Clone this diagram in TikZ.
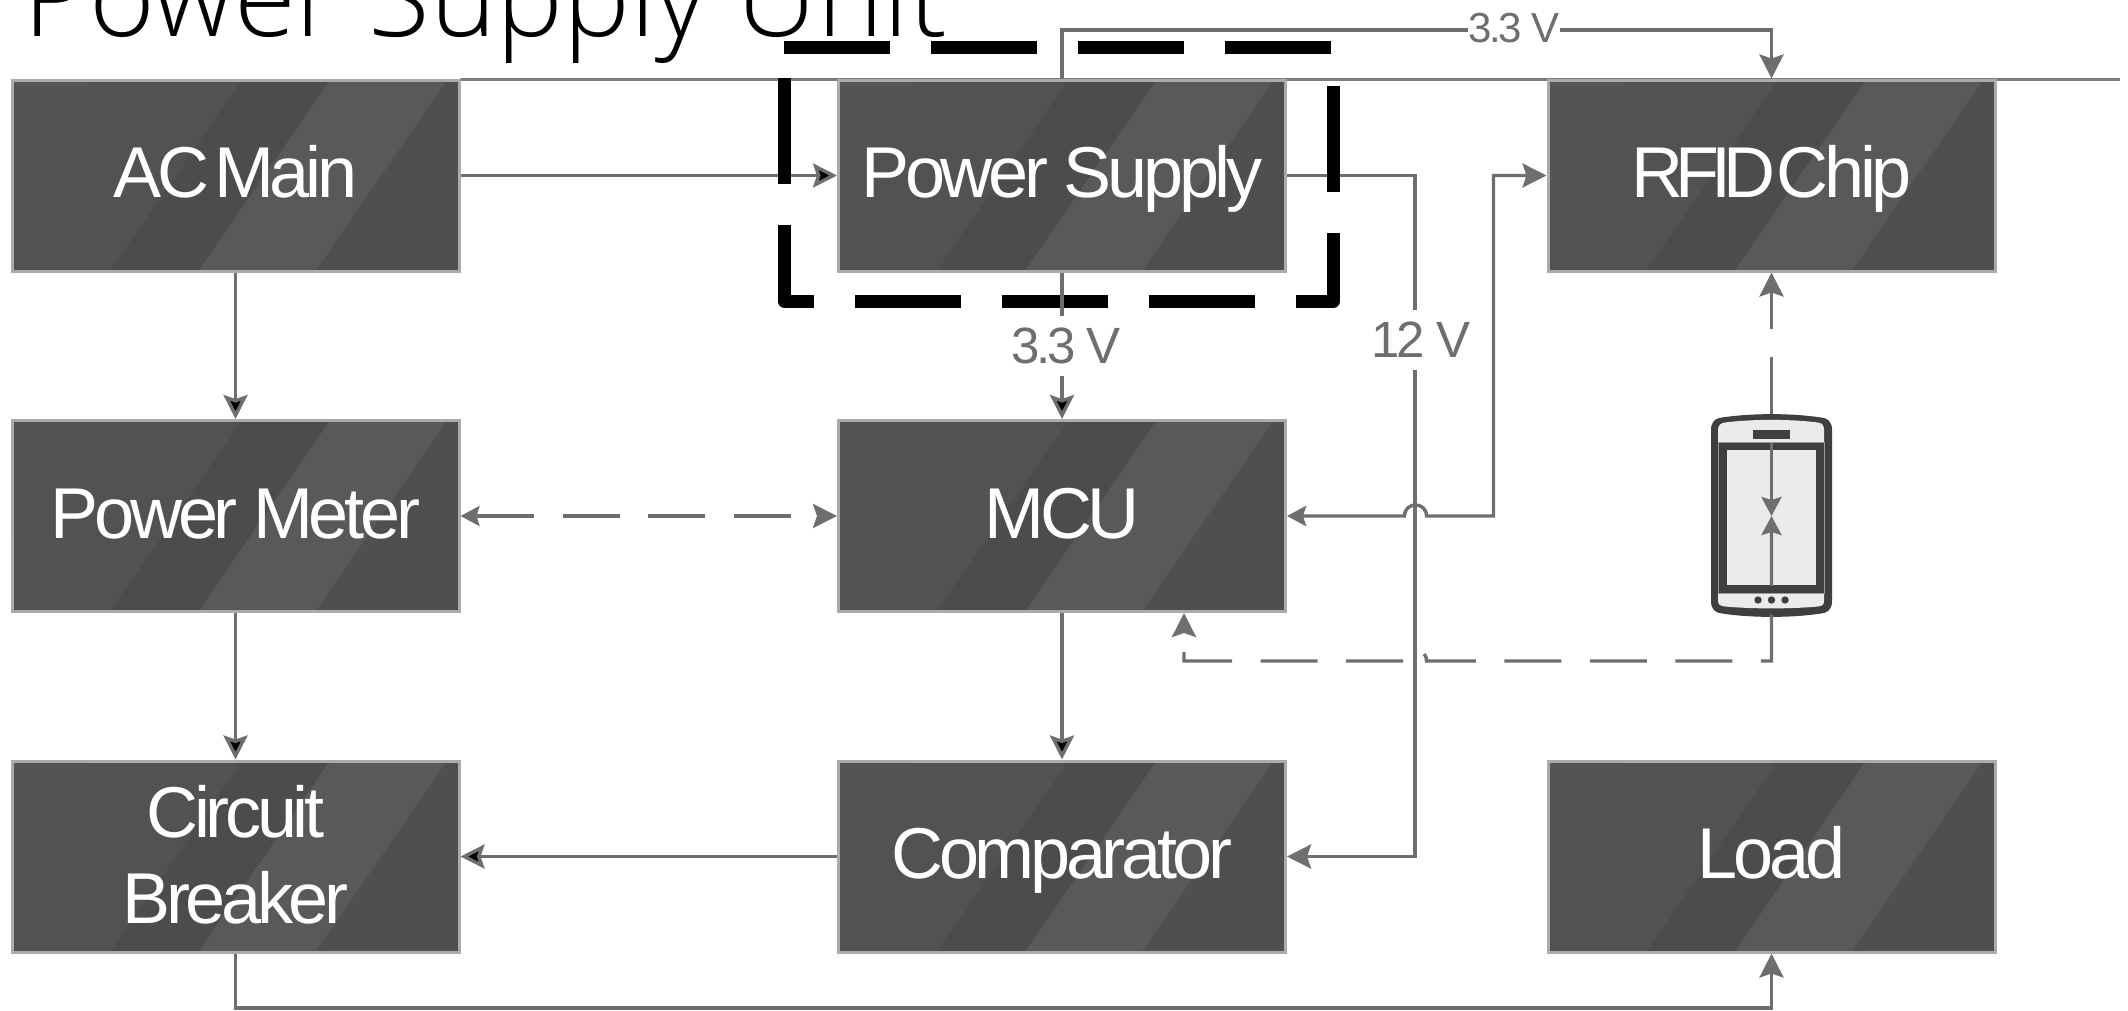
\documentclass[tikz,border=0pt]{standalone}
\usepackage{fontspec}
\usepackage{xcolor}
\usepackage{tikz}
\usetikzlibrary{arrows.meta}
\setmainfont{Liberation Sans}
\newfontfamily\boxfont[LetterSpace=-6]{Liberation Sans}
\newfontfamily\titlefont{Open Sans Light}
\definecolor{boxbase}{HTML}{4F4F4F}
\definecolor{boxedge}{HTML}{ABABAB}
\definecolor{wire}{HTML}{6E6E6E}
\definecolor{phonedark}{HTML}{3F3F3F}
\definecolor{phonelight}{HTML}{EBEBEB}
\tikzset{
    bigtip/.tip={Stealth[length=24pt,width=24pt,inset=4pt]},
    smalltip/.tip={Stealth[length=19pt,width=20pt,inset=3pt]},
    block/.style={draw=boxedge, line width=3pt, fill=boxbase, text=white, align=center,
        minimum width=447pt, minimum height=191pt, inner sep=0pt,
        font=\boxfont\fontsize{72}{86}\selectfont, text height=60pt, text depth=16pt,
        path picture={
            \fill[black!67] (path picture bounding box.north west) -- ++(83,0) -- ++(-133,193) -- ++(50,0) -- cycle;
            \fill[black!68] (path picture bounding box.north west) ++(83,0) -- ++(147,0) -- ++(-133,193) -- ++(-147,0) -- cycle;
            \fill[black!70] (path picture bounding box.north west) ++(230,0) -- ++(88,0) -- ++(-133,193) -- ++(-88,0) -- cycle;
            \fill[black!65] (path picture bounding box.north west) ++(318,0) -- ++(117,0) -- ++(-133,193) -- ++(-117,0) -- cycle;
        }},
    flow/.style={draw=wire, line width=3.4pt},
    flowdash/.style={flow, dash pattern=on 57pt off 28.5pt},
    rule/.style={draw=wire!90!white, line width=3pt},
    psuframe/.style={draw=black, line width=13pt, line join=round, dash pattern=on 106pt off 41pt},
    volt/.style={fill=white, text=wire, inner ysep=0pt, inner xsep=1pt, minimum height=60pt,
        font=\boxfont\fontsize{51}{60}\selectfont},
    voltsmall/.style={volt, minimum height=34pt, font=\boxfont\fontsize{42}{48}\selectfont},
}

\begin{document}
\begin{tikzpicture}[x=1pt, y=-1pt]
    \useasboundingbox (0,0) rectangle (2128,1010);
    \fill[white] (0,0) rectangle (2128,1010);
    \node[anchor=base west, inner sep=0pt, font=\titlefont\fontsize{112.5}{120}\selectfont] (title) at (23,36) {Power Supply Unit};
    \coordinate (ruleend) at (2120,79);
    \coordinate (rulestart) at (460,79);
    \path [rule] (rulestart) -- (ruleend);

    \node[block] (acmain) at (235.5,175.5) {AC \kern-11pt Main};
    \node[block] (supply) at (1062,175.5) {Power Supply};
    \node[block] (rfid) at (1771.5,175.5) {{\addfontfeature{LetterSpace=-11}RFID} \kern-14pt Chip};
    \node[block] (meter) at (235.5,516) {Power Meter};
    \node[block] (mcu) at (1062,516) {MCU};
    \node[block, text height=149pt] (breaker) at (235.5,856.5) {Circuit\\Breaker};
    \node[block] (comparator) at (1062,856.5) {Comparator};
    \node[block] (load) at (1771.5,856.5) {Load};

    \fill[phonedark] (1711,430) .. controls (1711,421) and (1716,418) .. (1722,417.5) .. controls (1752,413) and (1791,413) .. (1821,417.5) .. controls (1827,418) and (1832,421) .. (1832,430) -- (1832,601) .. controls (1832,610) and (1827,613) .. (1821,613.5) .. controls (1791,618) and (1752,618) .. (1722,613.5) .. controls (1716,613) and (1711,610) .. (1711,601) -- cycle;
    \fill[phonelight] (1718,442) -- (1718,430) .. controls (1718,425) and (1721,423) .. (1725,422.5) .. controls (1752,419) and (1791,419) .. (1818,422.5) .. controls (1822,423) and (1824,425) .. (1824,430) -- (1824,442) -- cycle;
    \fill[phonelight] (1718,593) -- (1718,601) .. controls (1718,605) and (1721,606) .. (1725,606.5) .. controls (1752,609) and (1791,609) .. (1818,606.5) .. controls (1822,606) and (1824,605) .. (1824,601) -- (1824,593) -- cycle;
    \draw[wire!70!white, line width=1pt] (1718,442) rectangle (1824,593);
    \fill[phonelight] (1727,450) rectangle (1816,585);
    \fill[phonedark] (1753,430) rectangle (1790,439);
    \fill[phonedark] (1758,600) circle (3.7);
    \fill[phonedark] (1771.5,600) circle (3.7);
    \fill[phonedark] (1785,600) circle (3.7);

    \coordinate (phonemid) at (1771.5,516);
    \coordinate (mcudash) at (1184,613);
    \coordinate (dashcorner) at (1184,661);
    \coordinate (dashjumpr) at (1426.5,661);
    \coordinate (dashjumpl) at (1404.5,661);
    \coordinate (wirejumpr) at (1426.5,516);
    \coordinate (wirejumpl) at (1404.5,516);

    \path [flow, -bigtip] (acmain) edge (supply);
    \path [flow, -bigtip] (acmain) edge (meter);
    \path [flow, -bigtip] (meter) edge (breaker);
    \path [flow, -bigtip] (mcu) edge (comparator);
    \path [flow, -bigtip] (comparator) edge (breaker);
    \draw [flow, -bigtip] (supply.north) -- (1062,30) -| (rfid.north);
    \draw [flow, -bigtip] (supply.east) -- (1415,175.5) |- (comparator.east);
    \draw [flow, -bigtip] (breaker.south) |- (1771.5,1008) -- (load.south);
    \draw [flow, smalltip-bigtip] (mcu.east) -- (wirejumpl) .. controls +(0,-14.7) and +(0,-14.7) .. (wirejumpr) -| (1493.5,175.5) -- (rfid.west);
    \draw [flowdash, dash phase=20pt, bigtip-smalltip] (rfid.south) -- (phonemid);
    \draw [flowdash, dash phase=58.5pt, bigtip-smalltip] (mcu.west) -- (meter.east);
    \draw [flowdash, dash phase=2pt, smalltip-bigtip] (phonemid) |- (dashjumpr) .. controls +(0,-14.7) and +(0,-14.7) .. (dashjumpl) -- (dashcorner) -- (mcudash);

    \draw [psuframe] (784,47.5) -- (1333.5,47.5) -- (1333.5,301) -- (784,301) -- cycle;
    \path [flow, -bigtip] (supply) edge (mcu);

    \node[volt] (mcuvolt) at (1066,346) {3.3 V};
    \node[volt] (compvolt) at (1421,340) {12 V};
    \node[voltsmall] (rfidvolt) at (1514,28) {3.3 V};
\end{tikzpicture}
\end{document}
